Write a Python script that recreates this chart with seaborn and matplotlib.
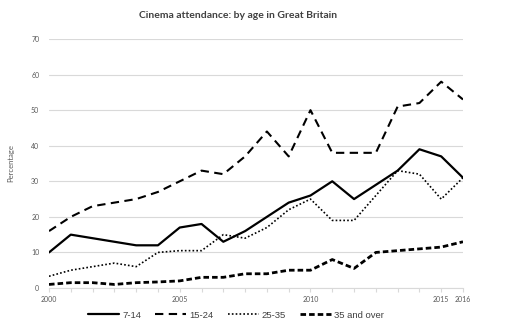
import matplotlib
matplotlib.use("Agg")
import matplotlib.pyplot as plt
import seaborn as sns
import pandas as pd
import numpy as np

# ---- data ----
positions = list(range(20))
tick_labels = ["2000", "", "", "", "", "", "2005", "", "", "", "", "", "2010",
               "", "", "", "", "", "2015", "2016"]
age_7_14 = [10, 15, 14, 13, 12, 12, 17, 18, 13, 16, 20, 24, 26, 30, 25, 29, 33, 39, 37, 31]
age_15_24 = [16, 20, 23, 24, 25, 27, 30, 33, 32, 37, 44, 37, 50, 38, 38, 38, 51, 52, 58, 53]
age_25_35 = [3.3, 5, 6, 7, 6, 10, 10.5, 10.5, 15, 14, 17, 22, 25, 19, 19, 26, 33, 32, 25, 31]
age_35_over = [1, 1.5, 1.5, 1, 1.5, 1.7, 2, 3, 3, 4, 4, 5, 5, 8, 5.5, 10, 10.5, 11, 11.5, 13]
series_names = ["7-14", "15-24", "25-35", "35 and over"]

df = pd.DataFrame({
    "pos": positions * 4,
    "value": age_7_14 + age_15_24 + age_25_35 + age_35_over,
    "group": sum([[n] * 20 for n in series_names], []),
})

sns.set_theme(style="white")
plt.rcParams["font.family"] = ["Lato", "DejaVu Sans"]

fig = plt.figure(figsize=(5.29, 3.30), dpi=100)
ax = fig.add_axes([49 / 529, 1 - 288 / 330, (463 - 49) / 529, (288 - 39) / 330])

styles = {
    "7-14": dict(lw=1.6, ls="-"),
    "15-24": dict(lw=1.5, ls=(0, (4.0, 2.6))),
    "25-35": dict(lw=1.2, ls=(0, (1, 1.3))),
    "35 and over": dict(lw=2.0, ls=(0, (2.0, 1.1))),
}
for name in series_names:
    sub = df[df["group"] == name]
    st = styles[name]
    sns.lineplot(data=sub, x="pos", y="value", ax=ax, color="black",
                 linewidth=st["lw"], linestyle=st["ls"], label=name)

ax.set_xlim(0, 19)
ax.set_ylim(0, 70)
ax.set_yticks(range(0, 71, 10))
ax.set_xticks(positions)
ax.set_xticklabels(tick_labels)
ax.yaxis.grid(True, color="#d9d9d9", linewidth=0.8)
ax.xaxis.grid(False)
for s in ["top", "right", "left"]:
    ax.spines[s].set_visible(False)
ax.spines["bottom"].set_color("#d9d9d9")
ax.spines["bottom"].set_linewidth(0.8)
ax.tick_params(axis="x", length=3, color="#d9d9d9", width=0.8, labelsize=5,
               labelcolor="#595959", pad=3, bottom=True)
ax.tick_params(axis="y", length=0, labelsize=5, labelcolor="#595959", pad=7)
ax.set_xlabel("")
ax.set_ylabel("Percentage", fontsize=5.5, color="#595959", labelpad=12)
ax.set_axisbelow(True)

fig.text(238 / 529, 1 - 15 / 330, "Cinema attendance: by age in Great Britain",
         ha="center", va="center", fontsize=7.5, fontweight="bold", color="#404040")

ax.get_legend().remove()
handles, labels = ax.get_legend_handles_labels()
fig.legend(handles, labels, loc="center", bbox_to_anchor=(236 / 529, 1 - 315 / 330),
           ncol=4, frameon=False, prop={"family": "Liberation Sans", "size": 6.8},
           handlelength=3.3, handletextpad=0.3, columnspacing=1.5, labelcolor="#404040")

fig.savefig("out.png", dpi=100)
